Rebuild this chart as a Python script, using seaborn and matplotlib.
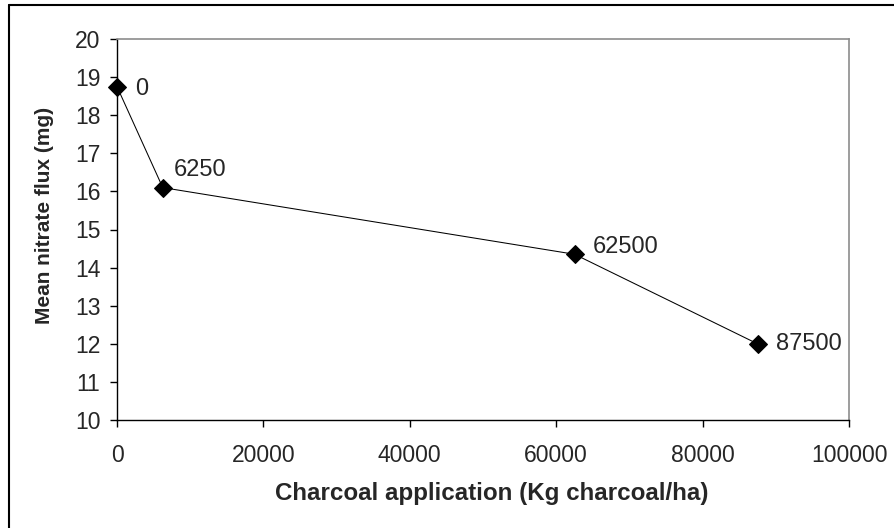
import numpy as np
import pandas as pd
import seaborn as sb
import matplotlib.pyplot as plt
from matplotlib.lines import Line2D

# charcoal application (kg/ha) vs mean nitrate flux (mg)
charcoal = [0, 6250, 62500, 87500]
nitrate = [18.75, 16.1, 14.35, 12.0]
point_labels = ['0', '6250', '62500', '87500']

df = pd.DataFrame({'charcoal': charcoal, 'nitrate': nitrate})

sb.set_style('white')
plt.rcParams['font.family'] = ['Liberation Sans', 'DejaVu Sans']

fig = plt.figure(figsize=(8.94, 5.28), dpi=100)
ax = fig.add_axes([117 / 894, 1 - 420 / 528, (849 - 117) / 894, (420 - 39) / 528])

sb.lineplot(data=df, x='charcoal', y='nitrate', ax=ax
            , color='black', linewidth=0.75
            , marker='D', markersize=9.5, markeredgecolor='black'
            , markerfacecolor='black', sort=False)
for ln in ax.lines:
    ln.set_clip_on(False)

# label each point with its x value
offsets = [(13, -1.5), (8, 13), (13, 5), (13, 0)]
for xv, yv, lab, off in zip(charcoal, nitrate, point_labels, offsets):
    ax.annotate(lab, (xv, yv), xytext=off, textcoords='offset points'
                , fontsize=17, va='center', ha='left')

ax.set_xlim(0, 100000)
ax.set_ylim(10, 20)
ax.set_xticks(np.arange(0, 100001, 20000))
ax.set_yticks(np.arange(10, 21, 1))
ax.tick_params(axis='both', labelsize=16.5, direction='out', length=5
               , width=1, color='black', bottom=True, left=True)
ax.tick_params(axis='x', pad=12)
ax.tick_params(axis='y', pad=7)

for side in ['left', 'bottom']:
    ax.spines[side].set_color('black')
    ax.spines[side].set_linewidth(1)
for side in ['top', 'right']:
    ax.spines[side].set_color('#8c8c8c')
    ax.spines[side].set_linewidth(1.2)

ax.set_xlabel('Charcoal application (Kg charcoal/ha)', fontsize=17.4
              , fontweight='bold')
ax.set_ylabel('Mean nitrate flux (mg)', fontsize=15
              , fontweight='bold')
ax.xaxis.set_label_coords(0.512, -0.192)
ax.xaxis.label.set_va('center')
ax.yaxis.set_label_coords(-0.0997, 0.538)
ax.yaxis.label.set_va('center')

# outer chart frame (left and top edges visible)
fig.lines.append(Line2D([9 / 894, 9 / 894], [0, 1 - 5 / 528]
                        , transform=fig.transFigure, color='black', linewidth=1.5))
fig.lines.append(Line2D([9 / 894, 1], [1 - 5 / 528, 1 - 5 / 528]
                        , transform=fig.transFigure, color='black', linewidth=1.5))

fig.savefig('out.png', dpi=100)
plt.close()
